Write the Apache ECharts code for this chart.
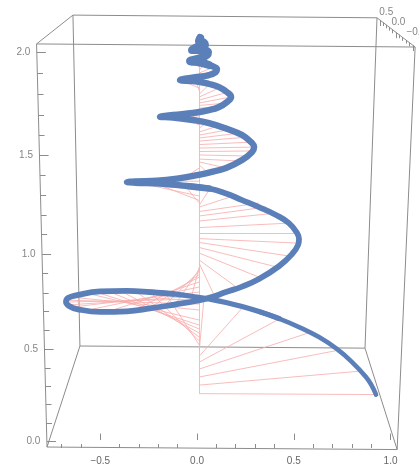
<!DOCTYPE html>
<html><head><meta charset="utf-8">
<style>html,body{margin:0;padding:0;background:#fff}#c{width:419px;height:469px}</style>
<script src="https://cdn.jsdelivr.net/npm/echarts@6/dist/echarts.min.js"></script>
</head><body><div id="c"></div>
<script>
// curve, in the picture plane's axis units: [x, height]
const helix = [[.925,.235],[.904,.279],[.873,.326],[.801,.403],[.724,.470],[.630,.532],[.527,.584],[.424,.628],[.320,.664],[.233,.690],[.150,.711],[.062,.729],[0,.739],[-.124,.755],[-.243,.765],[-.362,.771],[-.501,.768],[-.620,.749],[-.667,.734],[-.677,.713],[-.661,.693],[-.620,.677],[-.501,.662],[-.362,.665],[-.243,.680],[-.124,.699],[0,.720],[.067,.736],[.150,.765],[.233,.793],[.320,.832],[.424,.899],[.491,.961],[.522,1.008],[.527,1.039],[.517,1.070],[.475,1.121],[.408,1.163],[.320,1.204],[.233,1.240],[.150,1.274],[.062,1.300],[-.052,1.313],[-.191,1.326],[-.320,1.330],[-.362,1.333],[-.320,1.337],[-.207,1.340],[-.103,1.351],[.016,1.372],[.062,1.382],[.150,1.406],[.233,1.447],[.284,1.488],[.295,1.514],[.284,1.535],[.233,1.576],[.150,1.610],[.062,1.638],[-.021,1.654],[-.124,1.667],[-.191,1.671],[-.124,1.680],[-.021,1.690],[.062,1.705],[.114,1.721],[.155,1.747],[.176,1.773],[.155,1.798],[.114,1.824],[.062,1.840],[0,1.853],[-.088,1.860],[0,1.876],[.062,1.886],[.098,1.902],[.103,1.917],[.088,1.928],[.062,1.938],[.016,1.951],[-.036,1.959],[.016,1.974],[.052,1.990],[.057,2.005],[.016,2.016],[-.026,2.016],[0,2.031],[.041,2.041],[.031,2.057],[.010,2.062],[.016,2.078]];
// where the drawn line gets heavier towards the top: [first point, last point, width]
const helixWidths = [[0,8,4.6],[7,14,5.2],[13,42,5.8],[41,79,6.4],[78,90,8]];
// spokes: [height on central axis, end x, end height]
const spokes = [[.240,.925,.235],[.284,.853,.357],[.326,.734,.465],[.367,.589,.558],[.403,.424,.625],[.434,.233,.682],[.465,.036,.734],[.491,-.165,.760],[.512,-.243,.765],[.532,-.320,.770],[.553,-.393,.770],[.574,-.460,.770],[.594,-.522,.765],[.620,-.574,.760],[.672,-.651,.739],[.703,-.672,.723],[.729,-.677,.713],[.744,-.667,.698],[.765,-.646,.687],[.791,-.563,.672],[.817,-.450,.667],[.842,-.320,.672],[.855,-.243,.682],[.873,-.176,.687],[.884,-.114,.698],[.894,-.036,.713],[.912,.088,.749],[.930,.202,.791],[.966,.320,.842],[.995,.413,.894],[1.021,.475,.951],[1.041,.512,1.018],[1.070,.517,1.070],[1.098,.475,1.121],[1.132,.408,1.173],[1.158,.357,1.204],[1.181,.320,1.225],[1.204,.202,1.266],[1.214,.062,1.292],[1.225,-.062,1.313],[1.238,-.207,1.323],[1.261,-.295,1.328],[1.292,-.362,1.333],[1.338,-.295,1.336],[1.385,-.191,1.339],[1.406,-.062,1.359],[1.421,.052,1.385],[1.437,.150,1.406],[1.452,.222,1.442],[1.473,.264,1.468],[1.491,.289,1.494],[1.509,.295,1.514],[1.527,.289,1.540],[1.545,.269,1.566],[1.561,.227,1.587],[1.576,.171,1.605],[1.592,.109,1.623],[1.612,.052,1.643],[1.628,-.062,1.659],[1.643,-.140,1.669],[1.659,-.191,1.671],[1.674,-.129,1.680],[1.690,-.036,1.690],[1.705,.052,1.705],[1.716,.119,1.721],[1.729,.160,1.742],[1.742,.176,1.773],[1.757,.160,1.798],[1.773,.119,1.822],[1.788,.067,1.840],[1.804,-.005,1.855],[1.819,-.088,1.860],[1.835,-.005,1.876],[1.850,.057,1.886],[1.866,.098,1.902],[1.881,.103,1.917],[1.897,.088,1.928],[1.912,.041,1.946],[1.928,-.036,1.959],[1.943,.016,1.979],[1.959,.052,2.005],[1.974,.041,2.021]];
const centralAxisX = .012;
// box corners as projected on the picture plane
const frontTopLeft=[-.829,2.047], backTopLeft=[-.641,2.196], backTopRight=[.930,2.182], frontTopRight=[1.127,2.031];
const backBottomLeft=[-.605,.486], backBottomRight=[.868,.475], frontBottomLeft=[-.775,-.036], frontBottomRight=[1.034,-.049];
const frameEdges=[[frontTopLeft,backTopLeft],[backTopLeft,backTopRight],[backTopRight,frontTopRight],[frontTopRight,frontTopLeft],
 [backTopLeft,backBottomLeft],[backTopRight,backBottomRight],[backBottomLeft,backBottomRight],
 [frontTopLeft,frontBottomLeft],[frontTopRight,frontBottomRight],[frontBottomLeft,backBottomLeft],[frontBottomRight,backBottomRight],[frontBottomLeft,frontBottomRight]];
// tick labels
const xMajor=[-.5,0,.5,1], xMinor=[-.7,-.6,-.4,-.3,-.2,-.1,.1,.2,.3,.4,.6,.7,.8,.9];
const heightTickValues=[2,1.9,1.8,1.7,1.6,1.5,1.4,1.3,1.2,1.1,1,.9,.8,.7,.6,.5,.4,.3,.2,.1,0];
const heightTickPlane=[2.002,1.897,1.788,1.681,1.576,1.471,1.370,1.266,1.163,1.062,.961,.863,.761,.667,.568,.470,.372,.279,.186,.089,-.004];
const depthTickValues=[.5,.4,.3,.2,.1,0,-.1,-.2,-.3,-.4,-.5];
const depthTickAlong=[.08,.16,.24,.32,.41,.5,.58,.67,.76,.85,.94];
const depthLabels=[{v:.5,dx:.032,dy:.043},{v:0,dx:.012,dy:.05},{v:-.5,dx:.018,dy:.065}];

const GREY='#8c8c8c', TXT='#666666', BLUE='#5b7fb9', PINK='#f8abab', FONT='"Liberation Sans",Arial,sans-serif';
const lerp=(a,b,t)=>[a[0]+(b[0]-a[0])*t,a[1]+(b[1]-a[1])*t];
const isMajor=v=>Math.abs(v*2-Math.round(v*2))<1e-6;

const leftAt=h=>lerp(frontTopLeft,frontBottomLeft,(frontTopLeft[1]-h)/(frontTopLeft[1]-frontBottomLeft[1]));
const fmt=v=>v.toFixed(1).replace('-','\u2212');

const heightTicks=heightTickPlane.map((h,i)=>{const p=leftAt(h);const len=isMajor(heightTickValues[i])?.047:.029;return {coords:[p,[p[0]+len,h]]};});
const depthTicks=depthTickValues.map((v,i)=>{const p=lerp(backTopRight,frontTopRight,depthTickAlong[i]);const len=isMajor(v)?.03:.018;return {coords:[p,[p[0],p[1]-len]]};});
const depthTickAt=v=>lerp(backTopRight,frontTopRight,depthTickAlong[depthTickValues.indexOf(v)]);

const baseLines={type:'lines',coordinateSystem:'cartesian2d',silent:true,polyline:false,clip:false,animation:false};
const hiddenLabelSeries={type:'scatter',symbolSize:1,itemStyle:{color:'transparent'},silent:true,clip:false,animation:false};

const xBase={type:'value',min:-1.018,max:1.147,position:'bottom',axisLine:{show:false},splitLine:{show:false}};
const chart=echarts.init(document.getElementById('c'),null,{renderer:'canvas'});
chart.setOption({
 animation:false,
 grid:{left:0,right:0,top:0,bottom:21},
 xAxis:[
  Object.assign({},xBase,{axisTick:{show:true,inside:true,length:6.5,customValues:xMajor,lineStyle:{color:GREY}},
    axisLabel:{show:true,margin:8,customValues:xMajor,formatter:fmt,color:TXT,fontSize:10,fontFamily:FONT}}),
  Object.assign({},xBase,{axisTick:{show:true,inside:true,length:4,customValues:xMinor,lineStyle:{color:GREY}},axisLabel:{show:false}})
 ],
 yAxis:{type:'value',min:-.041,max:2.274,show:false},
 series:[
  Object.assign({},baseLines,{data:frameEdges.map(e=>({coords:e})),lineStyle:{color:GREY,width:1,opacity:1},z:1}),
  Object.assign({},baseLines,{data:heightTicks,lineStyle:{color:GREY,width:1,opacity:1},z:1}),
  Object.assign({},baseLines,{data:depthTicks,lineStyle:{color:GREY,width:1,opacity:1},z:1}),
  Object.assign({},baseLines,{data:spokes.map(s=>({coords:[[centralAxisX,s[0]],[s[1],s[2]]]})).concat([{coords:[[centralAxisX,spokes[0][0]],[centralAxisX,spokes[spokes.length-1][0]]]}]),lineStyle:{color:PINK,width:.8,opacity:1},z:2})
 ].concat(helixWidths.map(w=>({type:'line',data:helix.slice(w[0],w[1]+1),showSymbol:false,smooth:.45,clip:false,silent:true,animation:false,z:3,
   lineStyle:{color:BLUE,width:w[2],cap:'round',join:'round'}}))).concat([
  Object.assign({},hiddenLabelSeries,{z:4,
    data:heightTickPlane.map((h,i)=>({value:leftAt(h),tick:heightTickValues[i]})).filter(d=>isMajor(d.tick)),
    label:{show:true,position:'left',distance:6,color:TXT,fontSize:10,fontFamily:FONT,formatter:p=>fmt(p.data.tick)}}),
  Object.assign({},hiddenLabelSeries,{z:4,
    data:depthLabels.map(d=>{const p=depthTickAt(d.v);return {value:[p[0]+d.dx,p[1]+d.dy],tick:d.v};}),
    label:{show:true,position:'inside',color:TXT,fontSize:10,fontFamily:FONT,formatter:p=>fmt(p.data.tick)}})
 ])
});
</script></body></html>
